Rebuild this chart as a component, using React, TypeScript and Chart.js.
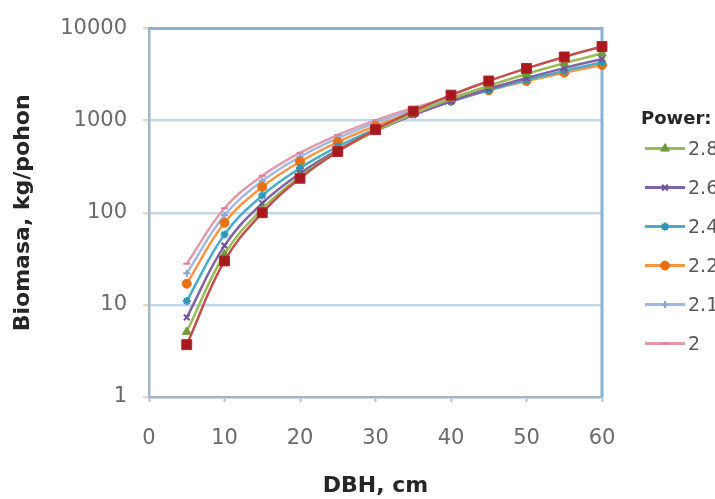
import React, { useEffect, useRef } from "react";
import { Chart, registerables } from "chart.js";
import { drawPoint } from "chart.js/helpers";

Chart.register(...registerables);

const dbh = [5, 10, 15, 20, 25, 30, 35, 40, 45, 50, 55, 60];
const yTickValues = [1, 10, 100, 1000, 10000];
const xTickMin = 0;
const xTickMax = 60;

const power30 = [3.7, 30, 100, 237, 463, 800, 1270, 1895, 2700, 3700, 4925, 6390];
const power28 = [5.1, 35.5, 110, 247, 462, 770, 1186, 1724, 2395, 3218, 4202, 5360];
const power26 = [7.3, 44, 127, 268, 480, 770, 1150, 1627, 2209, 2906, 3723, 4672];
const power24 = [11, 58, 154, 306, 524, 811, 1174, 1617, 2145, 2761, 3476, 4279];
const power22 = [17, 78, 191, 359, 587, 876, 1229, 1649, 2137, 2695, 3322, 4026];
const power21 = [22, 94, 221, 404, 647, 948, 1309, 1734, 2220, 2770, 3384, 4061];
const power20 = [28, 112, 252, 448, 700, 1008, 1372, 1792, 2268, 2800, 3388, 4032];

const seriesNames = ["3", "2.8", "2.6", "2.4", "2.2", "2.1", "2"];
const seriesValues = [power30, power28, power26, power24, power22, power21, power20];
const legendSeries = [1, 2, 3, 4, 5, 6];

const xTitle = "DBH, cm";
const yTitle = "Biomasa, kg/pohon";
const legendTitle = "Power:";

const FONT = '"DejaVu Sans", sans-serif';

const styles = [
  { line: "#c0504d", fill: "#a8191e", border: "#b0282c", point: "rect", r: 7, bw: 1 },
  { line: "#9bbb59", fill: "#73993a", border: "#73993a", point: "triangle", r: 5, bw: 1 },
  { line: "#8064a2", fill: "#7a5ea0", border: "#6f5296", point: "crossRot", r: 4, bw: 2 },
  { line: "#4bacc6", fill: "#3aa3c0", border: "#2f97b5", point: "star", r: 4, bw: 2 },
  { line: "#f79646", fill: "#e8700f", border: "#e8700f", point: "circle", r: 4.5, bw: 1 },
  { line: "#a3b8e0", fill: "#8aa4d6", border: "#8aa4d6", point: "cross", r: 3.5, bw: 2 },
  { line: "#e29aa8", fill: "#d98494", border: "#d98494", point: "line", r: 3.5, bw: 2 },
];

export default function App() {
  const ref = useRef<HTMLCanvasElement>(null);

  useEffect(() => {
    const canvas = ref.current!;

    const framePlugin = {
      id: "frame",
      beforeDatasetsDraw(chart: any) {
        const { ctx, chartArea: ca } = chart;
        ctx.save();
        ctx.strokeStyle = "#86b4d8";
        ctx.lineWidth = 3;
        ctx.beginPath();
        ctx.moveTo(ca.left, ca.top);
        ctx.lineTo(ca.right, ca.top);
        ctx.lineTo(ca.right, ca.bottom);
        ctx.stroke();
        ctx.restore();
      },
    };

    const legendPlugin = {
      id: "customLegend",
      afterDraw(chart: any) {
        const { ctx, chartArea: ca } = chart;
        ctx.save();
        ctx.textBaseline = "middle";
        ctx.textAlign = "left";
        ctx.fillStyle = "#262626";
        ctx.font = `bold 18px ${FONT}`;
        ctx.fillText(legendTitle, ca.right + 39, ca.top + 91);
        legendSeries.forEach((dsIndex, i) => {
          const st = styles[dsIndex];
          const y = ca.top + 120 + i * 39;
          const x0 = ca.right + 43;
          const x1 = ca.right + 83;
          ctx.strokeStyle = st.line;
          ctx.lineWidth = 3;
          ctx.beginPath();
          ctx.moveTo(x0, y);
          ctx.lineTo(x1, y);
          ctx.stroke();
          ctx.fillStyle = st.fill;
          ctx.strokeStyle = st.border;
          ctx.lineWidth = st.bw;
          drawPoint(ctx, { pointStyle: st.point, rotation: 0, radius: st.r, borderWidth: st.bw } as any, (x0 + x1) / 2, y);
          ctx.fillStyle = "#595959";
          ctx.font = `19px ${FONT}`;
          ctx.fillText(seriesNames[dsIndex], ca.right + 86, y + 1);
        });
        ctx.restore();
      },
    };

    const datasets = seriesValues.map((vals, i) => {
      const st = styles[i];
      return {
        label: seriesNames[i],
        data: dbh.map((x, j) => ({ x, y: vals[j] })),
        borderColor: st.line,
        backgroundColor: st.fill,
        pointBackgroundColor: st.fill,
        pointBorderColor: st.border,
        pointBorderWidth: st.bw,
        pointStyle: st.point,
        pointRadius: st.r,
        borderWidth: 2.5,
        tension: 0.4,
        fill: false,
        clip: false as any,
      };
    });

    const chart = new Chart(canvas, {
      type: "line",
      data: { datasets },
      options: {
        animation: false,
        responsive: true,
        maintainAspectRatio: false,
        layout: { padding: { top: 25, right: 113, left: 0, bottom: 0 } },
        plugins: {
          legend: { display: false },
          tooltip: { enabled: false },
        },
        scales: {
          x: {
            type: "linear",
            min: xTickMin,
            max: xTickMax,
            afterFit(scale: any) {
              scale.height = 102;
            },
            ticks: {
              stepSize: 10,
              padding: 24,
              color: "#6b6b6b",
              font: { family: FONT, size: 21 },
            },
            grid: {
              drawOnChartArea: false,
              drawTicks: true,
              tickLength: 5,
              tickColor: "#b0c0d0",
              tickWidth: 2,
            },
            border: { color: "#a3b5c8", width: 2.5 },
            title: {
              display: true,
              text: xTitle,
              color: "#262626",
              font: { family: FONT, size: 22, weight: "bold" },
              padding: { top: 0, bottom: 0 },
            },
          },
          y: {
            type: "logarithmic",
            min: 1,
            max: 10000,
            afterFit(scale: any) {
              scale.width = 149;
            },
            afterBuildTicks(scale: any) {
              scale.ticks = yTickValues.map((v) => ({ value: v }));
            },
            ticks: {
              padding: 16,
              color: "#6b6b6b",
              font: { family: FONT, size: 21 },
              callback: (v: any) => String(v),
            },
            grid: {
              drawTicks: true,
              tickLength: 6,
              tickColor: "#e8d8c8",
              color: (c: any) =>
                c.tick && (c.tick.value === 10000 || c.tick.value === 1) ? "rgba(0,0,0,0)" : "#c5d6e6",
              lineWidth: 2.5,
            },
            border: { color: "#a3b5c8", width: 2.5 },
            title: {
              display: true,
              text: yTitle,
              color: "#262626",
              font: { family: FONT, size: 22, weight: "bold" },
              padding: { top: 10, bottom: 0 },
            },
          },
        },
      } as any,
      plugins: [framePlugin, legendPlugin],
    });

    return () => chart.destroy();
  }, []);

  return (
    <div style={{ position: "absolute", left: 0, top: 0, width: 715, height: 499, background: "#fff" }}>
      <canvas ref={ref} />
    </div>
  );
}
